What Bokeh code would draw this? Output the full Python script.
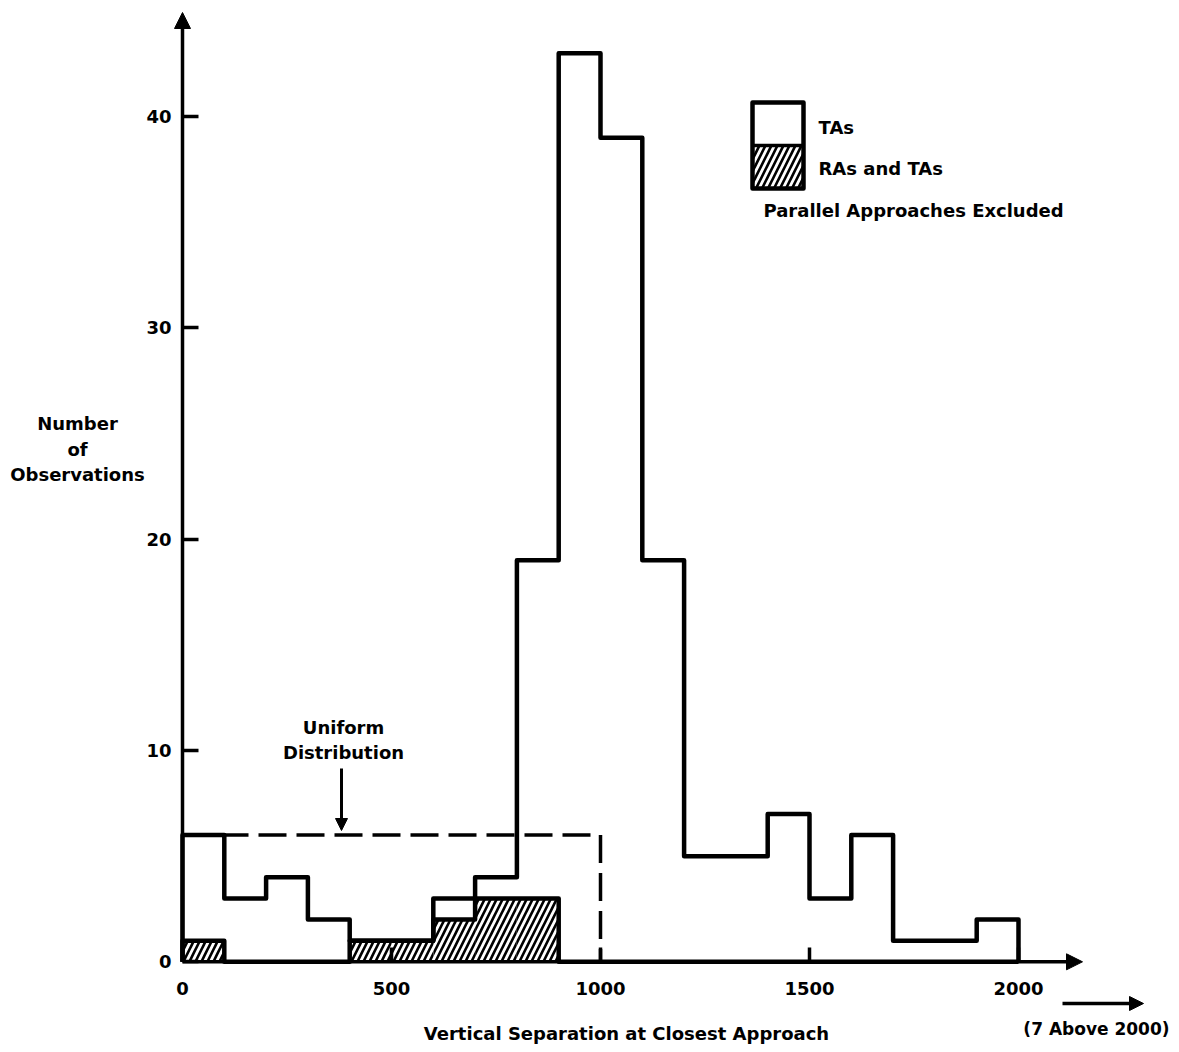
import numpy as np
from bokeh.plotting import figure
from bokeh.models import Range1d, LinearAxis, FixedTicker, Arrow, NormalHead, Label
from bokeh.embed import file_html
from bokeh.resources import INLINE

# ---------------- data ----------------
bin_edges = list(range(0, 2100, 100))
ta_counts = [6, 3, 4, 2, 1, 1, 3, 4, 19, 43, 39, 19, 5, 5, 7, 3, 6, 1, 1, 2]
ra_counts = [1, 0, 0, 0, 1, 1, 2, 3, 3, 0, 0, 0, 0, 0, 0, 0, 0, 0, 0, 0]
uniform_level = 6
uniform_end = 1000
x_ticks = [0, 500, 1000, 1500, 2000]
y_ticks = [0, 10, 20, 30, 40]
x_title = "Vertical Separation at Closest Approach"
y_title = ["Number", "of", "Observations"]
above_note = "(7 Above 2000)"
uniform_note = ["Uniform", "Distribution"]
legend_labels = ["TAs", "RAs and TAs"]
legend_note = "Parallel Approaches Excluded"

# ---------------- layout ----------------
W, H = 1171, 1044
X0_PX, XSCALE = 182.0, 0.418    # canvas px of x=0, px per data unit
Y0_PX, YSCALE = 961.3, 21.13    # canvas px of y=0, px per data unit


def dx(px):  # picture pixel -> data x
    return (px - X0_PX) / XSCALE


def dy(py):  # picture pixel -> data y
    return (Y0_PX - py) / YSCALE


FONT = "DejaVu Sans"
FS = "18px"

p = figure(width=W, height=H,
           x_range=Range1d(-X0_PX / XSCALE, (W - X0_PX) / XSCALE),
           y_range=Range1d(-(H - Y0_PX) / YSCALE, Y0_PX / YSCALE),
           output_backend="svg", toolbar_location=None, min_border=0,
           x_axis_location=None, y_axis_location=None)
p.outline_line_color = None
p.background_fill_color = "white"
p.border_fill_color = "white"
p.grid.visible = False


def step_path(edges, counts):
    xs = [edges[0]]
    ys = [0]
    for i, c in enumerate(counts):
        xs += [edges[i], edges[i + 1]]
        ys += [c, c]
    xs.append(edges[-1])
    ys.append(0)
    return xs, ys


HATCH = dict(hatch_pattern="/", hatch_color="black", hatch_weight=2.6, hatch_scale=12)

# hatched RA bars
p.quad(left=bin_edges[:-1], right=bin_edges[1:], bottom=0, top=ra_counts,
       fill_color="white", line_color=None, **HATCH)

# uniform distribution (dashed)
p.line([0, uniform_end, uniform_end], [uniform_level, uniform_level, 0],
       line_color="black", line_width=3.5, line_dash="28 10")

# outlines
rx, ry = step_path(bin_edges, ra_counts)
p.line(rx, ry, line_color="black", line_width=4.5, line_join="round")
tx, ty = step_path(bin_edges, ta_counts)
p.line(tx, ty, line_color="black", line_width=4.5, line_join="round")

# axes
common = dict(fixed_location=0, axis_line_color=None, major_tick_out=0,
              major_tick_line_width=3.5, major_tick_line_color="black",
              minor_tick_line_color=None, major_label_text_font=FONT,
              major_label_text_font_size=FS, major_label_text_font_style="bold",
              major_label_text_color="black")
xaxis = LinearAxis(ticker=FixedTicker(ticks=x_ticks), major_tick_in=14,
                   major_label_standoff=20, **common)
p.add_layout(xaxis, "below")
yaxis = LinearAxis(ticker=FixedTicker(ticks=y_ticks), major_tick_in=16,
                   major_label_standoff=11, **common)
p.add_layout(yaxis, "left")

p.add_layout(Arrow(end=NormalHead(size=16, fill_color="black", line_color="black"),
                   x_start=0, y_start=0, x_end=0, y_end=dy(12),
                   line_width=3.5, line_color="black"))
p.add_layout(Arrow(end=NormalHead(size=16, fill_color="black", line_color="black"),
                   x_start=0, y_start=0, x_end=dx(1082), y_end=0,
                   line_width=3.5, line_color="black"))


def label(px, py, text, align="center", size=FS):
    p.add_layout(Label(x=dx(px), y=dy(py), text=text, text_align=align,
                       text_baseline="middle", text_font=FONT,
                       text_font_style="bold", text_font_size=size,
                       text_color="black"))


# y title
for i, t in enumerate(y_title):
    label(77, 423 + 25.5 * i, t)
# x title
label(626, 1033, x_title)
# uniform note
label(343, 727, uniform_note[0])
label(343, 752, uniform_note[1])
p.add_layout(Arrow(end=NormalHead(size=12, fill_color="black", line_color="black"),
                   x_start=dx(341), y_start=dy(768), x_end=dx(341), y_end=dy(830),
                   line_width=3, line_color="black"))
# above note
label(1169, 1028, above_note, "right", "17px")
p.add_layout(Arrow(end=NormalHead(size=14, fill_color="black", line_color="black"),
                   x_start=dx(1062), y_start=dy(1003), x_end=dx(1143), y_end=dy(1003),
                   line_width=3.5, line_color="black"))

# legend
p.quad(left=[dx(752)], right=[dx(803)], top=[dy(145)], bottom=[dy(188)],
       fill_color="white", line_color=None, **HATCH)
p.quad(left=[dx(752)], right=[dx(803)], top=[dy(102)], bottom=[dy(188)],
       fill_color=None, line_color="black", line_width=4.5, line_join="round")
p.line([dx(752), dx(803)], [dy(145), dy(145)], line_color="black", line_width=3.5)
label(818, 127, legend_labels[0], "left")
label(818, 168, legend_labels[1], "left")
label(763, 210, legend_note, "left")

open("out.html", "w").write(file_html(p, INLINE))
